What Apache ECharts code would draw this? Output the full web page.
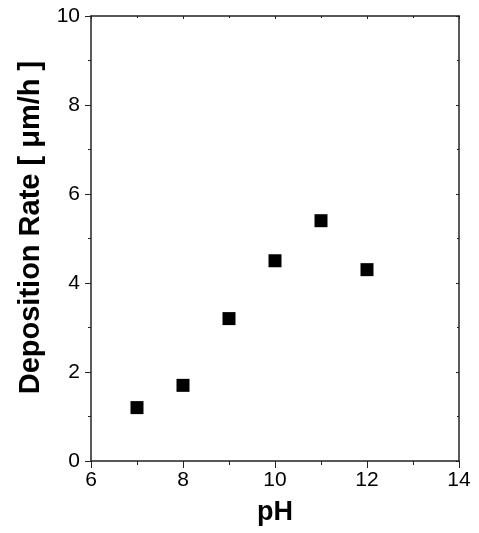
<!DOCTYPE html>
<html><head><meta charset="utf-8">
<script src="https://cdn.jsdelivr.net/npm/echarts@6/dist/echarts.min.js"></script>
<style>html,body{margin:0;padding:0;background:#fff}#c{width:479px;height:533px}</style>
</head><body><div id="c"></div>
<script>
const phValues = [7, 8, 9, 10, 11, 12];
const depositionRate = [1.2, 1.7, 3.2, 4.5, 5.4, 4.3];
const xTitle = 'pH';
const yTitle = 'Deposition Rate [ μm/h ]';

const font = 'Liberation Sans, Arial, sans-serif';
const lineColor = '#222';
const points = phValues.map((x, i) => [x, depositionRate[i]]);

const chart = echarts.init(document.getElementById('c'), null, {renderer: 'canvas'});
const mirror = {
  axisLine: {show: true, onZero: false, lineStyle: {color: lineColor, width: 1.5}},
  axisTick: {show: true, inside: true, length: 3, lineStyle: {color: lineColor}},
  minorTick: {show: true, splitNumber: 2, length: 2, lineStyle: {color: lineColor}},
  axisLabel: {show: false},
  splitLine: {show: false}
};
chart.setOption({
  animation: false,
  grid: {left: 91, right: 20, top: 16, bottom: 72, containLabel: false},
  xAxis: [{
    type: 'value', min: 6, max: 14, interval: 2, position: 'bottom',
    name: xTitle, nameLocation: 'middle', nameGap: 38,
    nameTextStyle: {fontFamily: font, fontSize: 27, fontWeight: 'bold', color: '#000'},
    axisLine: {show: true, onZero: false, lineStyle: {color: lineColor, width: 1.5}},
    axisTick: {show: true, length: 7, lineStyle: {color: lineColor}},
    minorTick: {show: true, splitNumber: 2, length: 4, lineStyle: {color: lineColor}},
    axisLabel: {fontFamily: font, fontSize: 21, color: '#000', margin: 9},
    splitLine: {show: false}
  }, Object.assign({type: 'value', min: 6, max: 14, interval: 2, position: 'top'}, mirror)],
  yAxis: [{
    type: 'value', min: 0, max: 10, interval: 2, position: 'left',
    name: yTitle, nameLocation: 'middle', nameGap: 44, nameRotate: 90,
    nameTextStyle: {fontFamily: font, fontSize: 29, fontWeight: 'bold', color: '#000', padding: [0, 0, 0, 22]},
    axisLine: {show: true, onZero: false, lineStyle: {color: lineColor, width: 1.5}},
    axisTick: {show: true, length: 6, lineStyle: {color: lineColor}},
    minorTick: {show: true, splitNumber: 2, length: 3, lineStyle: {color: lineColor}},
    axisLabel: {fontFamily: font, fontSize: 21, color: '#000', margin: 11},
    splitLine: {show: false}
  }, Object.assign({type: 'value', min: 0, max: 10, interval: 2, position: 'right'}, mirror)],
  series: [{
    type: 'scatter', xAxisIndex: 0, yAxisIndex: 0,
    data: points, symbol: 'rect', symbolSize: 13,
    itemStyle: {color: '#000', opacity: 1}
  }]
});
</script></body></html>
